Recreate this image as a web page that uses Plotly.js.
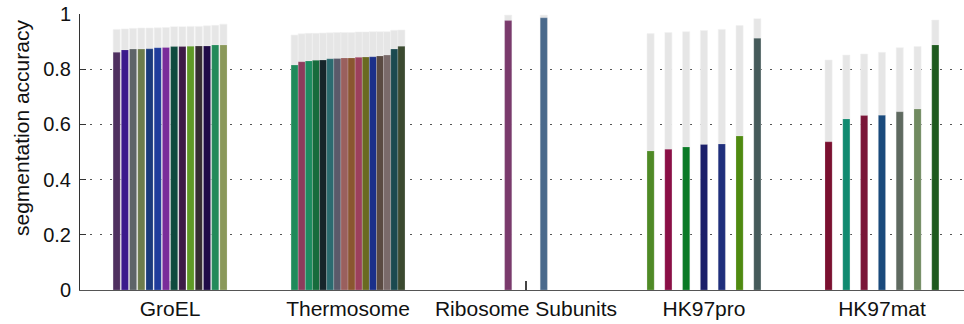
<!DOCTYPE html>
<html>
<head>
<meta charset="utf-8">
<script src="https://cdn.plot.ly/plotly-3.0.1.min.js"></script>
<style>html,body{margin:0;padding:0;background:#fff;overflow:hidden}#chart{width:964px;height:324px}</style>
</head>
<body>
<div id="chart"></div>
<script>
// ---- data ----
const groupNames = ["GroEL", "Thermosome", "Ribosome Subunits", "HK97pro", "HK97mat"];

const groelAcc = [0.861, 0.870, 0.873, 0.873, 0.874, 0.878, 0.879, 0.882, 0.882, 0.883, 0.884, 0.884, 0.888, 0.888];
const groelMax = [0.944, 0.946, 0.948, 0.949, 0.949, 0.950, 0.951, 0.954, 0.954, 0.955, 0.955, 0.957, 0.959, 0.963];

const thermoAcc = [0.815, 0.827, 0.830, 0.832, 0.833, 0.838, 0.839, 0.841, 0.841, 0.843, 0.844, 0.845, 0.848, 0.851, 0.873, 0.883];
const thermoMax = [0.924, 0.928, 0.930, 0.930, 0.931, 0.932, 0.933, 0.933, 0.933, 0.935, 0.935, 0.936, 0.936, 0.936, 0.941, 0.942];

const riboAcc = [null, 0.976, 0.986, null];
const riboMax = [null, 0.996, 0.996, null];

const hk97proAcc = [0.504, 0.510, 0.518, 0.527, 0.529, 0.558, 0.912];
const hk97proMax = [0.929, 0.933, 0.936, 0.940, 0.944, 0.958, 0.983];

const hk97matAcc = [0.537, 0.620, 0.632, 0.633, 0.646, 0.656, 0.888];
const hk97matMax = [0.833, 0.851, 0.855, 0.861, 0.878, 0.882, 0.978];

const yTicks = [0, 0.2, 0.4, 0.6, 0.8, 1];
const yTickText = ["0", "0.2", "0.4", "0.6", "0.8", "1"];

// ---- styles ----
const groelColors = ["#4f3060", "#3b1a8c", "#5e6468", "#6d7c4c", "#1b3a7c", "#1f3c9c", "#7a2c9a", "#0f4a3e", "#3d1a46", "#5f9a26", "#342c31", "#1f0b48", "#238a5a", "#8a985a"];
const thermoColors = ["#1f8a5a", "#8c3c5c", "#1b8c60", "#166c3c", "#16252a", "#2b6b70", "#5a5a6a", "#9a605e", "#8a5630", "#9c405c", "#6a6a20", "#1b308a", "#5a4a42", "#7a6a6a", "#1b4a50", "#3b4a30"];
const riboColors = ["#000", "#7a3a6c", "#4a6a8c", "#000"];
const hk97proColors = ["#4f8a26", "#8a0f46", "#0a7a26", "#1b1f6a", "#1f2f7c", "#4f8a10", "#455a5a"];
const hk97matColors = ["#7a1030", "#108a70", "#7a1638", "#1a4a7c", "#5f6a60", "#708a60", "#1f5a1f"];

const groups = [
  {acc: groelAcc, max: groelMax, colors: groelColors},
  {acc: thermoAcc, max: thermoMax, colors: thermoColors},
  {acc: riboAcc, max: riboMax, colors: riboColors},
  {acc: hk97proAcc, max: hk97proMax, colors: hk97proColors},
  {acc: hk97matAcc, max: hk97matMax, colors: hk97matColors}
];

const groupSpan = 0.6;
const barW = 0.04;
const xs = [], accAll = [], maxAll = [], colAll = [];
groups.forEach((g, gi) => {
  const n = g.acc.length;
  for (let i = 0; i < n; i++) {
    if (g.acc[i] === null) continue;
    xs.push(gi + 1 - groupSpan / 2 + i * groupSpan / (n - 1));
    accAll.push(g.acc[i]);
    maxAll.push(g.max[i]);
    colAll.push(g.colors[i]);
  }
});

const font = "Liberation Sans, Arial, Helvetica, sans-serif";

const traces = [
  {type: "bar", x: xs, y: maxAll, width: barW, marker: {color: "#e6e6e6", line: {width: 0.6, color: "#f2f2f2"}}, hoverinfo: "skip", showlegend: false},
  {type: "bar", x: xs, y: accAll, width: barW, marker: {color: colAll, line: {width: 0.6, color: "rgba(255,255,255,0.3)"}}, showlegend: false}
];

const layout = {
  width: 964, height: 324,
  margin: {l: 80, r: 0, t: 14, b: 34, pad: 0},
  paper_bgcolor: "#fff", plot_bgcolor: "#fff",
  barmode: "overlay",
  showlegend: false,
  font: {family: font, color: "#111", size: 20},
  xaxis: {
    range: [0.494, 5.461],
    tickvals: [1, 2, 3, 4, 5],
    ticktext: groupNames,
    ticks: "inside", ticklen: 9, tickcolor: "#444", tickwidth: 1.2,
    tickfont: {size: 21, family: font, color: "#111"},
    showgrid: false, zeroline: false,
    showline: true, linecolor: "#555", linewidth: 1.2,
    layer: "below traces",
    ticklabelstandoff: 0
  },
  yaxis: {
    range: [0, 1],
    tickvals: yTicks, ticktext: yTickText,
    ticks: "inside", ticklen: 6, tickcolor: "#333", tickwidth: 1,
    tickfont: {size: 20, family: font, color: "#111"},
    showgrid: true, gridcolor: "#555", gridwidth: 1.3, griddash: "2px,8px",
    zeroline: false,
    showline: true, linecolor: "#333", linewidth: 1,
    ticklabelstandoff: 4
  },
  annotations: [{
    text: "segmentation accuracy", textangle: -90,
    xref: "paper", yref: "paper",
    x: (22 - 80) / 884, y: (290 - 128) / 276,
    xanchor: "center", yanchor: "middle",
    showarrow: false, font: {size: 21, family: font, color: "#111"}
  }]
};

Plotly.newPlot("chart", traces, layout, {displayModeBar: false, staticPlot: true});
</script>
</body>
</html>
